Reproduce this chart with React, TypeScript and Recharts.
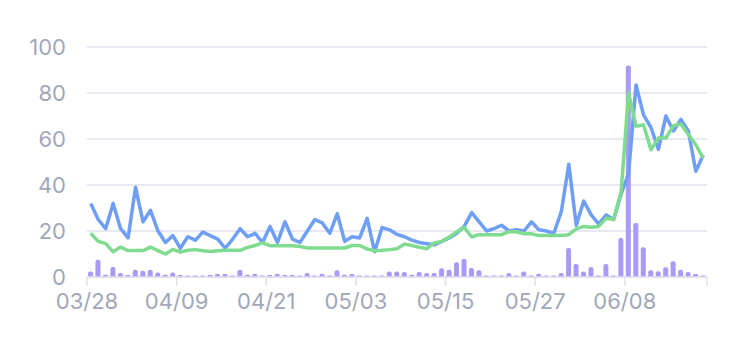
import React from 'react';
import { ComposedChart, Bar, Line, XAxis, YAxis, CartesianGrid } from 'recharts';

const dates = [
  '03/28','03/29','03/30','03/31',
  '04/01','04/02','04/03','04/04','04/05','04/06','04/07','04/08','04/09','04/10',
  '04/11','04/12','04/13','04/14','04/15','04/16','04/17','04/18','04/19','04/20',
  '04/21','04/22','04/23','04/24','04/25','04/26','04/27','04/28','04/29','04/30',
  '05/01','05/02','05/03','05/04','05/05','05/06','05/07','05/08','05/09','05/10',
  '05/11','05/12','05/13','05/14','05/15','05/16','05/17','05/18','05/19','05/20',
  '05/21','05/22','05/23','05/24','05/25','05/26','05/27','05/28','05/29','05/30','05/31',
  '06/01','06/02','06/03','06/04','06/05','06/06','06/07','06/08','06/09','06/10',
  '06/11','06/12','06/13','06/14','06/15','06/16','06/17','06/18',
];

const blueSeries = [
  32, 25, 21, 32, 21, 17, 39, 24, 29, 20,
  15, 18, 12.5, 17.5, 16, 19.5, 18, 16.5, 12.5, 16.5,
  21, 17.5, 19, 15, 22, 15, 24, 16.5, 15, 20,
  25, 23.5, 19, 27.5, 15.5, 17.5, 17, 25.5, 11, 21.5,
  20.5, 18.5, 17.5, 16, 15, 14.5, 14, 15.5, 17, 19,
  22, 28, 24, 20, 21, 22.5, 20, 20.5, 20, 24,
  20.5, 20, 19, 28.5, 49, 22.5, 33, 27, 23, 27,
  25, 36, 45, 83.5, 70.5, 65, 55.5, 70, 63.5, 68.5,
  63.5, 46, 53,
];

const greenSeries = [
  19, 15.5, 14.5, 11, 13, 11.5, 11.5, 11.5, 13, 11.5,
  10, 12, 10.8, 11.6, 11.9, 11.4, 11.1, 11.4, 11.6, 11.6,
  11.6, 12.9, 13.7, 14.8, 13.6, 13.6, 13.6, 13.6, 13.3, 12.6,
  12.6, 12.6, 12.6, 12.6, 12.6, 13.7, 13.7, 12.2, 11.4, 11.6,
  11.9, 12.3, 14.3, 13.7, 12.9, 12.3, 14.8, 15.5, 17.4, 19.6,
  21.6, 17.4, 18.4, 18.4, 18.4, 18.4, 19.7, 19.7, 18.8, 18.8,
  18, 18, 18, 18, 18.4, 20.9, 22, 21.6, 22, 25.5,
  25, 37, 80, 65.5, 66.2, 55.3, 60.4, 60.4, 65.8, 66.5,
  62, 57.5, 51.7,
];

const barSeries = [
  2.4, 7.5, 1, 4.3, 1.7, 0.9, 3.2, 2.7, 3.2, 2,
  1, 2, 0.9, 0.6, 0.6, 0.6, 0.9, 1.3, 1.3, 0.6,
  3.2, 1, 1.3, 0.6, 0.9, 1.3, 0.9, 0.9, 0.6, 1.7,
  0.7, 1.4, 0.6, 2.9, 1, 1.3, 0.6, 0.6, 0.6, 0.6,
  2.4, 2.4, 2.2, 1, 2.2, 1.7, 1.7, 3.8, 3.2, 6.4,
  7.8, 3.9, 2.9, 0.6, 0.6, 0.6, 1.7, 0.7, 2.4, 0.7,
  1.4, 0.6, 0.6, 1.7, 12.6, 5.7, 2.4, 4.3, 0.6, 5.6,
  0.7, 17, 92, 23.5, 12.9, 2.9, 2.5, 4.2, 6.8, 3.2,
  2.2, 1.3, 0.7,
];

const xTicks = [0, 12, 24, 36, 48, 60, 72, 83];
const yTicks = [0, 20, 40, 60, 80, 100];

const data = dates.map((d, i) => ({
  pos: i + 0.5,
  date: d,
  blue: blueSeries[i],
  green: greenSeries[i],
  bar: barSeries[i],
}));

const TEXT = '#a2a7b8';
const GRID = '#dfe1ed';

export default function App() {
  return (
    <div style={{ position: 'absolute', left: 0, top: 0, width: 739, height: 337, background: '#fff' }}>
      <ComposedChart
        width={739}
        height={337}
        data={data}
        margin={{ top: 47, right: 32, left: 0, bottom: 20 }}
      >
        <CartesianGrid vertical={false} stroke={GRID} strokeWidth={1.5} />
        <XAxis
          dataKey="pos"
          type="number"
          domain={[0, 83]}
          ticks={xTicks}
          interval={0}
          allowDecimals={false}
          tickFormatter={(v: number) => (v >= 83 ? '' : dates[v])}
          height={40}
          tickSize={9}
          tickMargin={7}
          stroke={GRID}
          tickLine={{ stroke: GRID, strokeWidth: 1.5 }}
          axisLine={{ stroke: GRID, strokeWidth: 1.5 }}
          tick={{ fill: TEXT, fontSize: 22, fontFamily: 'Inter' }}
        />
        <YAxis
          domain={[0, 100]}
          ticks={yTicks}
          width={87}
          axisLine={false}
          tickLine={false}
          tickSize={6}
          tickMargin={15}
          tick={{ fill: TEXT, fontSize: 22, fontFamily: 'Inter' }}
        />
        <Bar dataKey="bar" fill="#a79bf7" barSize={5} radius={[2, 2, 0, 0]} isAnimationActive={false} />
        <Line dataKey="blue" stroke="#6e9ef6" strokeWidth={3.5} dot={false} isAnimationActive={false} strokeLinejoin="round" />
        <Line dataKey="green" stroke="#7fdb8f" strokeWidth={3.5} dot={false} isAnimationActive={false} strokeLinejoin="round" />
      </ComposedChart>
    </div>
  );
}
